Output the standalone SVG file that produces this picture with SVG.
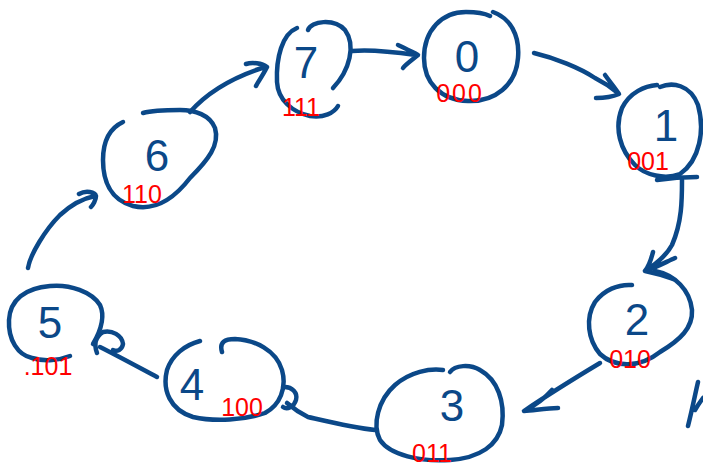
<svg xmlns="http://www.w3.org/2000/svg" width="703" height="467" viewBox="0 0 703 467">
<style>
.ink{fill:none;stroke:#0b4888;stroke-width:4.5;stroke-linecap:round;stroke-linejoin:round}
.dig{font-family:"Liberation Sans",Arial,sans-serif;font-size:44px;fill:#0b4888;text-anchor:middle}
.lab{font-family:"Liberation Sans",Arial,sans-serif;font-size:25px;fill:#ff0000;text-anchor:middle}
</style>
<rect width="703" height="467" fill="#ffffff"/>
<g id="node0">
<path class="ink" d="M493 12 C510 18 520 35 518 58 C516 85 495 102 468 101 C440 100 424 82 424 58 C424 30 442 12 466 12 C478 12 486 14 490 16"/>
<text class="dig" x="467" y="72">0</text>
<text class="lab" x="460" y="102" letter-spacing="2">000</text>
</g>
<g id="node1">
<path class="ink" d="M660 87 C672 82 690 84 698 105 C705 130 700 160 680 174 C665 180 645 175 635 165 C620 150 614 128 622 108 C630 92 645 86 657 85"/>
<path class="ink" d="M657 180 C670 178 685 177 697 177"/>
<text class="dig" x="666" y="141">1</text>
<text class="lab" x="648" y="170">001</text>
</g>
<g id="node2">
<path class="ink" d="M632 285 C618 284 604 290 595 302 C585 318 588 340 600 354 C615 368 640 368 660 352 C680 340 693 328 692 310 C690 290 675 275 655 271"/>
<text class="dig" x="637" y="335">2</text>
<text class="lab" x="630" y="368">010</text>
</g>
<g id="node3">
<path class="ink" d="M450 372 C455 365 470 364 480 370 C498 380 505 402 502 425 C498 445 480 458 450 460 C420 462 390 455 380 440 C372 425 378 400 395 385 C410 372 430 368 443 370"/>
<text class="dig" x="452" y="421">3</text>
<text class="lab" x="432" y="462">011</text>
</g>
<g id="node4">
<path class="ink" d="M200 341 C185 345 172 355 167 370 C162 390 170 410 193 417 C215 422 245 420 265 413 C280 405 287 388 282 370 C276 350 255 340 235 339 C225 339 219 342 222 352"/>
<path class="ink" d="M283 387 C292 386 298 393 296 400 C294 407 287 410 283 407 M287 403 C295 410 302 414 308 417 C330 422 355 428 375 430"/>
<text class="dig" x="192" y="400">4</text>
<text class="lab" x="242" y="416">100</text>
</g>
<g id="node5">
<path class="ink" d="M93 344 C100 332 106 318 100 305 C92 292 70 284 50 286 C25 288 10 300 9 320 C8 340 18 355 32 358 C45 362 60 360 70 356"/>
<path class="ink" d="M157 377 C140 368 118 356 100 347 M97 353 C94 345 95 337 103 332 C112 330 122 335 123 344 C122 350 117 352 113 350"/>
<text class="dig" x="50" y="338">5</text>
<text class="lab" x="48" y="375">.101</text>
</g>
<g id="node6">
<path class="ink" d="M123 122 C110 128 103 140 103 160 C103 180 110 200 133 206 C150 210 170 204 190 178 C208 160 220 145 215 128 C210 115 195 110 180 110 C165 110 150 111 143 113"/>
<text class="dig" x="157" y="171">6</text>
<text class="lab" x="142" y="203">110</text>
</g>
<g id="node7">
<path class="ink" d="M297 28 C282 34 276 58 277 82 C278 100 292 112 310 116 C324 118 334 113 338 106"/>
<path class="ink" d="M308 30 C311 21 334 18 345 30 C356 45 350 70 333 88"/>
<text class="dig" x="306" y="78">7</text>
<text class="lab" x="301" y="116">111</text>
</g>
<g id="connectors">
<path class="ink" d="M28 268 C30 255 45 230 60 215 C72 204 85 198 95 196 M79 194 C86 190 95 192 96 196 C96 200 93 205 91 207"/>
<path class="ink" d="M190 112 C205 95 230 78 265 67 M246 64 C252 62 262 63 267 67 C263 75 258 82 256 86"/>
<path class="ink" d="M352 51 C372 49 395 52 416 55 M398 45 C405 48 412 52 418 55 C412 60 406 64 403 68"/>
<path class="ink" d="M534 53 C555 58 580 68 595 78 C605 83 612 88 618 93 M605 75 C610 82 615 88 619 94 C612 97 603 98 596 98"/>
<path class="ink" d="M682 180 C682 200 682 222 672 245 C666 256 656 264 645 271 M653 252 C651 260 649 266 645 271 C655 268 666 262 675 258 M645 271 C655 273 665 276 673 279"/>
<path class="ink" d="M600 363 C580 375 555 390 524 411 M552 390 C545 398 536 405 524 411 C536 410 548 408 558 408"/>
<path class="ink" d="M698 382 C695 395 692 410 688 426 M695 410 C698 405 700 402 703 398"/>
</g>
</svg>
